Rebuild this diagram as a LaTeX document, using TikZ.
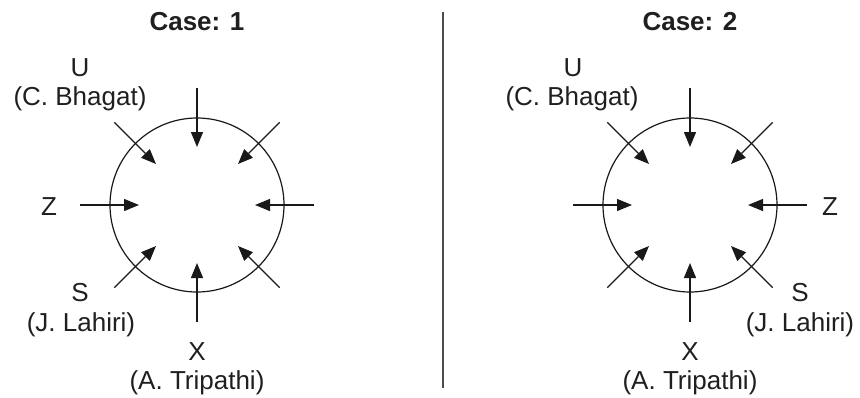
\documentclass[tikz,border=0pt]{standalone}
\usepackage{fontspec}
\setmainfont{Liberation Sans}
\usetikzlibrary{arrows.meta}
\begin{document}
\begin{tikzpicture}[x=1pt,y=-1pt,
  lbl/.style={font=\fontsize{26}{30}\selectfont, inner sep=0pt, text=black!88},
  ttl/.style={font=\fontsize{26}{30}\selectfont\bfseries, inner sep=0pt, text=black!88},
  arr/.style={line width=1.3pt, black!90, -{Triangle[length=15pt,width=12pt]}},
  ring/.style={circle, draw=black!90, line width=1.2pt, minimum size=174pt, inner sep=0pt},
  divider/.style={line width=1.5pt, black!70}]
\useasboundingbox (0,0) rectangle (860,397);
% titles
\node[ttl] (t1) at (197,22) {Case: 1};
\node[ttl] (t2) at (690,22) {Case: 2};
% circles
\node[ring] (c1) at (197,205) {};
\node[ring] (c2) at (690,205) {};
% arrows
\foreach \a in {0,45,...,315} {
  \coordinate (L-o\a) at ([shift={(\a:117)}]c1.center);
  \coordinate (L-i\a) at ([shift={(\a:58)}]c1.center);
  \draw[arr] (L-o\a) -- (L-i\a);
  \coordinate (R-o\a) at ([shift={(\a:117)}]c2.center);
  \coordinate (R-i\a) at ([shift={(\a:58)}]c2.center);
  \draw[arr] (R-o\a) -- (R-i\a);
}
% left labels
\node[lbl] (lu) at (80,68) {U};
\node[lbl] (lub) at (80,99) {(C. Bhagat)};
\node[lbl] (lz) at (49,207) {Z};
\node[lbl] (ls) at (80,293) {S};
\node[lbl] (lsb) at (81,325) {(J. Lahiri)};
\node[lbl] (lx) at (197,352) {X};
\node[lbl] (lxb) at (197,383) {(A. Tripathi)};
% right labels
\node[lbl] (ru) at (573,68) {U};
\node[lbl] (rub) at (572,99) {(C. Bhagat)};
\node[lbl] (rz) at (830,207) {Z};
\node[lbl] (rs) at (800,293) {S};
\node[lbl] (rsb) at (800,325) {(J. Lahiri)};
\node[lbl] (rx) at (690,352) {X};
\node[lbl] (rxb) at (690,383) {(A. Tripathi)};
% divider
\coordinate (d1) at (443,12);
\coordinate (d2) at (443,388);
\draw[divider] (d1) -- (d2);
\end{tikzpicture}
\end{document}
